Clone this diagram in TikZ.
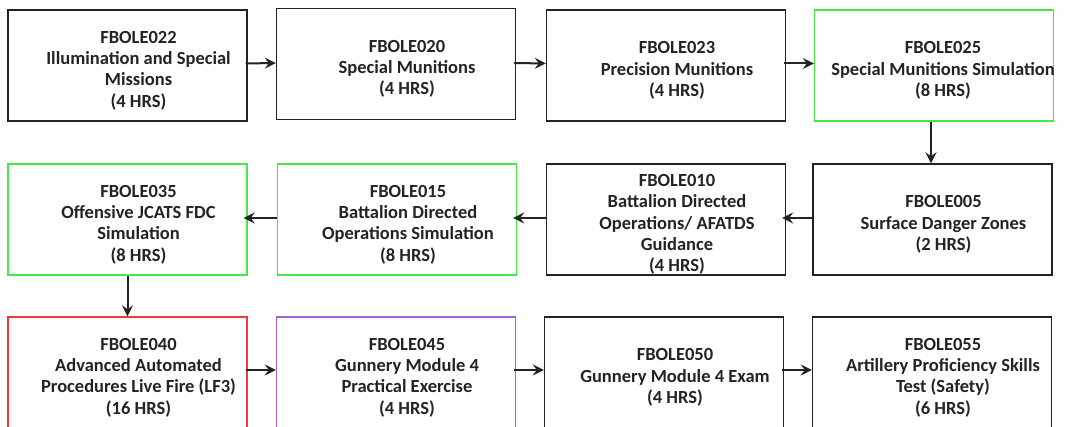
\documentclass[tikz,border=0pt]{standalone}
\usepackage{fontspec}
\setmainfont{Carlito}
\usetikzlibrary{arrows.meta}
\definecolor{bgreen}{RGB}{70,232,70}
\definecolor{bred}{RGB}{238,60,60}
\definecolor{bpurple}{RGB}{172,96,212}
\definecolor{bdark}{RGB}{35,35,35}
\begin{document}
\begin{tikzpicture}[x=1pt,y=-1pt,
  box/.style={draw=bdark, line width=1.4pt, minimum width=239pt, minimum height=111pt, inner sep=0pt},
  gbox/.style={box, draw=bgreen},
  rbox/.style={box, draw=bred},
  pbox/.style={box, draw=bpurple},
  txt/.style={align=center, inner sep=0pt, font=\fontsize{18.5}{21.3}\selectfont\bfseries, text=bdark},
  arr/.style={draw=bdark, line width=2pt, -{Stealth[length=11pt,width=11pt,inset=4pt]}}]
\useasboundingbox (0,0) rectangle (1069,427);
% row 1
\node[box]  (b1) at (127.5,65.5) {};
\node[box]  (b2) at (396,64) {};
\node[box]  (b3) at (666,65.5) {};
\node[gbox] (b4) at (934,65.5) {};
% row 2
\node[gbox] (b5) at (127.5,219.5) {};
\node[gbox] (b6) at (397,219.5) {};
\node[box]  (b7) at (666,219.5) {};
\node[box]  (b8) at (932.5,219.5) {};
% row 3
\node[rbox] (b9)  at (127.5,372.5) {};
\node[pbox] (b10) at (396,372.5) {};
\node[box]  (b11) at (664,372.5) {};
\node[box]  (b12) at (932,372.5) {};
% texts
\node[txt] (t1) at ([xshift=11pt,yshift=-5pt]b1.center) {FBOLE022\\Illumination and Special\\Missions\\(4 HRS)};
\node[txt] (t2) at ([xshift=11pt,yshift=-5pt]b2.center) {FBOLE020\\Special Munitions\\(4 HRS)};
\node[txt] (t3) at ([xshift=11pt,yshift=-5pt]b3.center) {FBOLE023\\Precision Munitions\\(4 HRS)};
\node[txt] (t4) at ([xshift=9pt,yshift=-5pt]b4.center) {FBOLE025\\Special Munitions Simulation\\(8 HRS)};
\node[txt] (t5) at ([xshift=11pt,yshift=-5pt]b5.center) {FBOLE035\\Offensive JCATS FDC\\Simulation\\(8 HRS)};
\node[txt] (t6) at ([xshift=11pt,yshift=-5pt]b6.center) {FBOLE015\\Battalion Directed\\Operations Simulation\\(8 HRS)};
\node[txt] (t7) at ([xshift=11pt,yshift=-5pt]b7.center) {FBOLE010\\Battalion Directed\\Operations/ AFATDS\\Guidance\\(4 HRS)};
\node[txt] (t8) at ([xshift=11pt,yshift=-5pt]b8.center) {FBOLE005\\Surface Danger Zones\\(2 HRS)};
\node[txt] (t9) at ([xshift=11pt,yshift=-5pt]b9.center) {FBOLE040\\Advanced Automated\\Procedures Live Fire (LF3)\\(16 HRS)};
\node[txt] (t10) at ([xshift=11pt,yshift=-5pt]b10.center) {FBOLE045\\Gunnery Module 4\\Practical Exercise\\(4 HRS)};
\node[txt] (t11) at ([xshift=11pt,yshift=-5pt]b11.center) {FBOLE050\\Gunnery Module 4 Exam\\(4 HRS)};
\node[txt] (t12) at ([xshift=11pt,yshift=-5pt]b12.center) {FBOLE055\\Artillery Proficiency Skills\\Test (Safety)\\(6 HRS)};
% connectors
\draw[arr] ([xshift=-2pt,yshift=2pt]b1.east) -- ([yshift=1pt]b2.west);
\draw[arr] ([xshift=-2pt,yshift=1pt]b2.east) -- ([yshift=2pt]b3.west);
\draw[arr] ([xshift=-2pt,yshift=2pt]b3.east) -- ([yshift=2pt]b4.west);
\draw[arr] ([xshift=-3pt]b4.south) -- ([xshift=-1.5pt]b8.north);
\draw[arr] ([yshift=1.5pt]b8.west) -- ([xshift=-4pt,yshift=1.5pt]b7.east);
\draw[arr] ([yshift=1.5pt]b7.west) -- ([xshift=-4pt,yshift=1.5pt]b6.east);
\draw[arr] ([yshift=1.5pt]b6.west) -- ([xshift=-4pt,yshift=1.5pt]b5.east);
\draw[arr] (b5.south) -- (b9.north);
\draw[arr] ([xshift=-2pt,yshift=2.5pt]b9.east) -- ([yshift=2.5pt]b10.west);
\draw[arr] ([xshift=-2pt,yshift=2.5pt]b10.east) -- ([yshift=2.5pt]b11.west);
\draw[arr] ([xshift=-2pt,yshift=2.5pt]b11.east) -- ([yshift=2.5pt]b12.west);
\end{tikzpicture}
\end{document}
